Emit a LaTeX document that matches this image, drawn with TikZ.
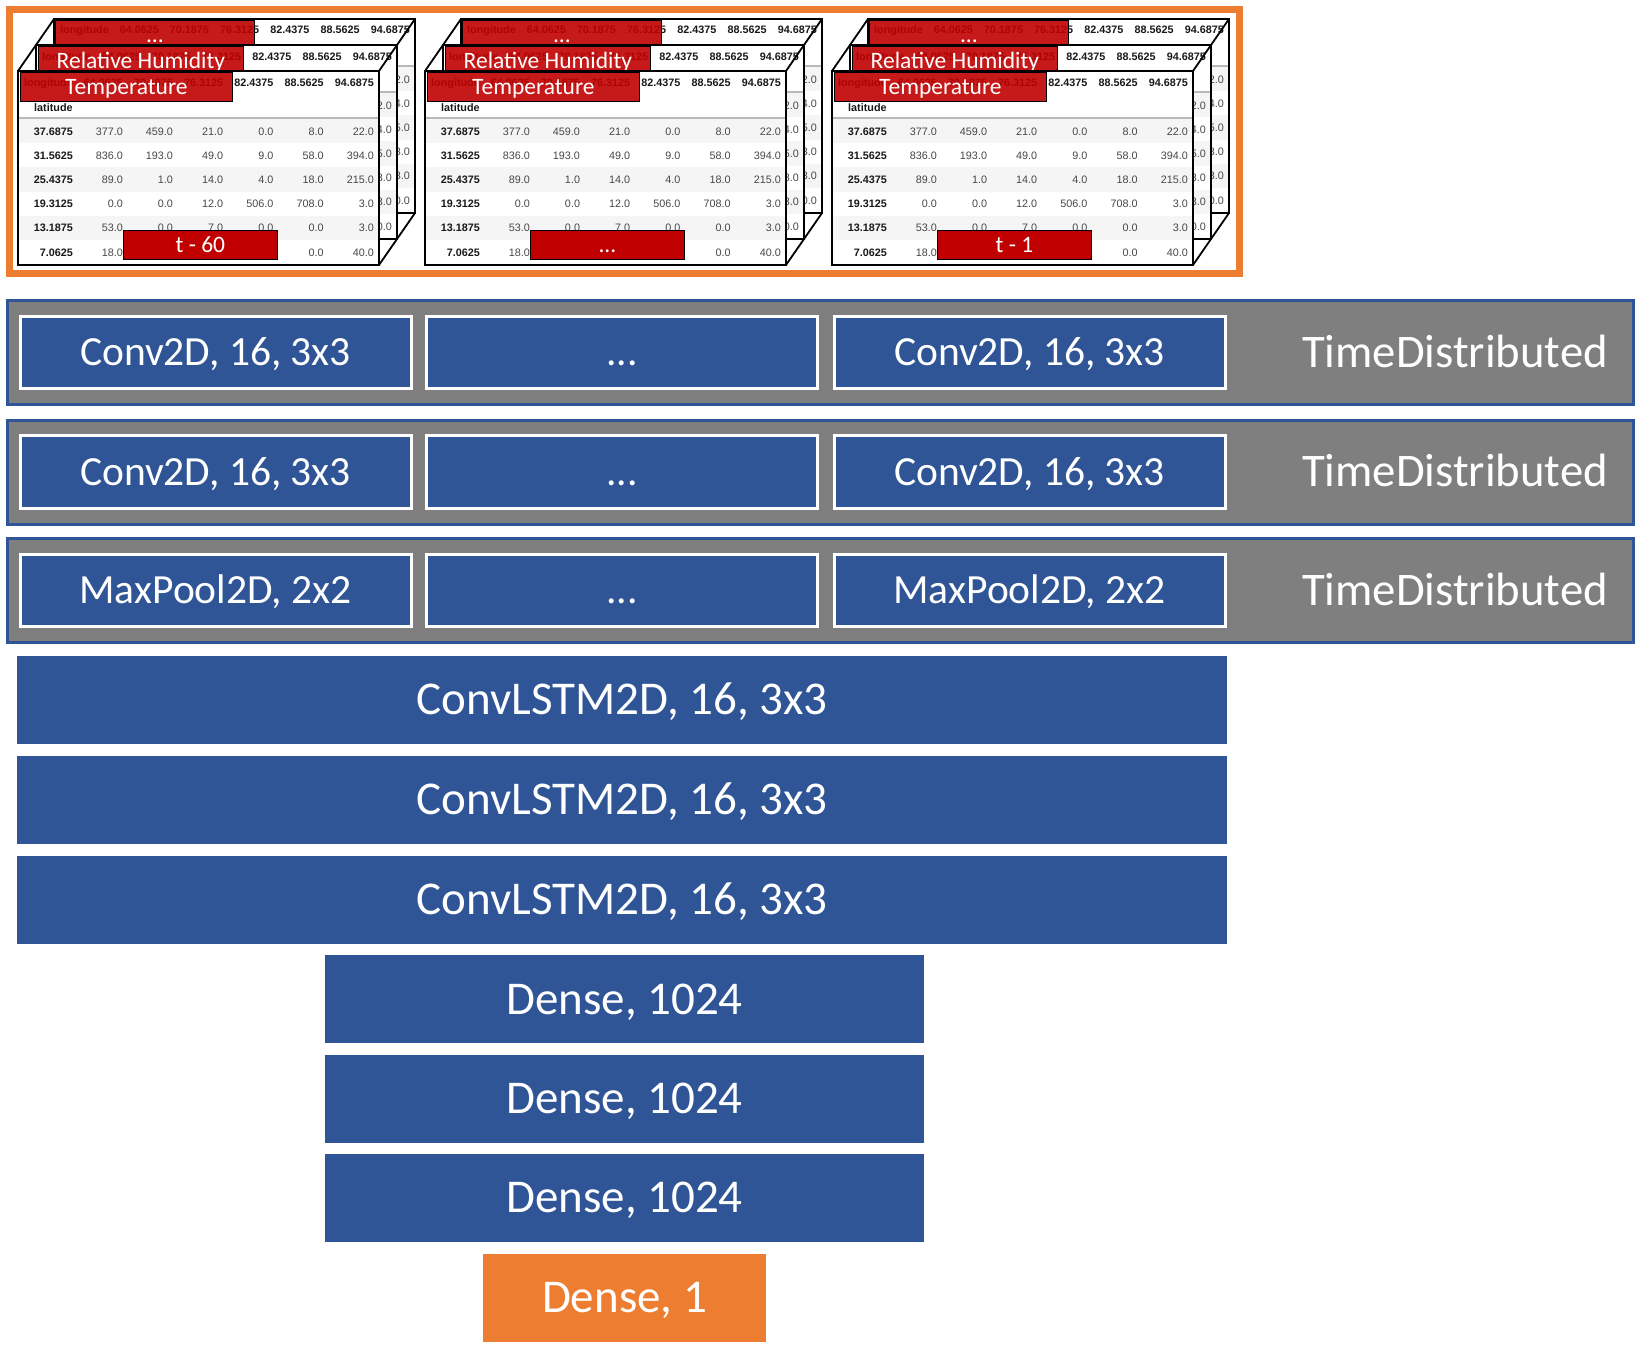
\documentclass[tikz,border=0pt]{standalone}
\usepackage{fontspec}
\setmainfont{Carlito}
\newfontfamily\gridfont{Liberation Sans}
\usetikzlibrary{positioning}

\definecolor{kerasblue}{HTML}{2F5597}
\definecolor{tdgray}{HTML}{7F7F7F}
\definecolor{outorange}{HTML}{ED7D31}
\definecolor{tagred}{HTML}{C00000}
\definecolor{rowshade}{HTML}{F5F5F5}

\newcommand{\skipmark}{...}

\newcommand{\gridlayer}[3]{%
  \begin{scope}
    \fill[white] (#1,#2) rectangle ++(361,194);
    \clip (#1,#2) rectangle ++(361,194);
    \foreach \r in {0,2,4}
      \fill[rowshade] (#1,#2+48+24.2*\r) rectangle ++(361,24.2);
    \draw[gray!55, line width=1.5pt] (#1,#2+47) -- ++(361,0);
    \node[headcell] (#3-lon) at (#1+55,#2+15) {longitude};
    \foreach \v [count=\j] in {64.0625,70.1875,76.3125,82.4375,88.5625,94.6875}
      \node[headcell] (#3-h\j) at (#1+54.8+50.2*\j,#2+15) {\v};
    \node[headcell, anchor=base west] (#3-lat) at (#1+16,#2+40) {latitude};
    \foreach \lat/\a/\b/\c/\d/\e/\f [count=\i from 0] in {%
        37.6875/377.0/459.0/21.0/0.0/8.0/22.0,
        31.5625/836.0/193.0/49.0/9.0/58.0/394.0,
        25.4375/89.0/1.0/14.0/4.0/18.0/215.0,
        19.3125/0.0/0.0/12.0/506.0/708.0/3.0,
        13.1875/53.0/0.0/7.0/0.0/0.0/3.0,
        7.0625/18.0/{}/{}/{}/0.0/40.0}{%
      \node[headcell] (#3-r\i) at (#1+55,#2+64+24.2*\i) {\lat};
      \foreach \v [count=\j] in {\a,\b,\c,\d,\e,\f}
        \node[valcell] (#3-c\i\j) at (#1+54.8+50.2*\j,#2+64+24.2*\i) {\v};
    }
  \end{scope}
  \draw[layeredge] (#1,#2) rectangle ++(361,194);
}

\begin{document}
\begin{tikzpicture}[x=1pt, y=-1pt,
  headcell/.style={anchor=base east, inner sep=0pt, text=black!90,
    font=\gridfont\fontsize{10.8}{13}\selectfont\bfseries},
  valcell/.style={anchor=base east, inner sep=0pt, text=black!72,
    font=\gridfont\fontsize{10.8}{13}\selectfont},
  layeredge/.style={draw=black, line width=1.8pt},
  tagbox/.style={anchor=north west, fill=tagred, fill opacity=0.9, text opacity=1,
    draw=black, line width=0.8pt, text=white, inner sep=0pt, minimum height=28.5,
    font=\fontsize{23.5}{26}\selectfont, text height=14.8pt, text depth=0pt},
  stepbox/.style={tagbox, fill opacity=1, minimum width=154, minimum height=29},
  tdbar/.style={draw=kerasblue, fill=tdgray, line width=3pt, inner sep=0pt,
    minimum width=1626, minimum height=104},
  tdbox/.style={draw=white, fill=kerasblue, line width=3pt, text=white, inner sep=0pt,
    minimum width=391, minimum height=72.5,
    font=\fontsize{41.5}{45}\selectfont, text height=26.1pt, text depth=0pt},
  tdlabel/.style={text=white, inner sep=0pt,
    font=\fontsize{46.7}{50}\selectfont, text height=29.4pt, text depth=0pt},
  layerbox/.style={fill=kerasblue, text=white, inner sep=0pt, minimum height=88,
    font=\fontsize{47}{50}\selectfont, text height=29.6pt, text depth=0pt},
  outbox/.style={layerbox, fill=outorange}]
  \useasboundingbox (0,0) rectangle (1645,1346);

  \draw[outorange, line width=7pt] (9.5,10) rectangle (1239.5,273);

  \foreach \x/\tag/\nm in {18/t - 60/ta, 425/\skipmark/tb, 832/t - 1/tc}{
    \gridlayer{\x+36}{19}{\nm3}
    \node[tagbox, minimum width=199] (\nm-dots) at (\x+37,20) {\skipmark};
    \gridlayer{\x+18}{45}{\nm2}
    \node[tagbox, minimum width=205] (\nm-rh) at (\x+20,46) {Relative Humidity};
    \gridlayer{\x}{71}{\nm1}
    \node[tagbox, minimum width=212] (\nm-temp) at (\x+2,72) {Temperature};
    \draw[layeredge] (\x,71) -- (\x+36,19) (\x+361,71) -- (\x+397,19)
      (\x+361,265) -- (\x+397,213);
    \node[stepbox] (\nm-step) at (\x+105,230) {\tag};
  }

  \foreach \y/\lab/\nm in {352.5/{Conv2D, 16, 3x3}/conva,
      472/{Conv2D, 16, 3x3}/convb, 590.5/{MaxPool2D, 2x2}/pool}{
    \node[tdbar] (\nm-bar) at (820.5,\y) {};
    \node[tdbox] (\nm-first) at (215.5,\y) {\lab};
    \node[tdbox] (\nm-mid) at (622,\y) {\skipmark};
    \node[tdbox] (\nm-last) at (1029.5,\y) {\lab};
    \node[tdlabel] (\nm-td) at (1455,\y) {TimeDistributed};
  }

  \node[layerbox, minimum width=1210] (lstm1) at (622,700) {ConvLSTM2D, 16, 3x3};
  \node[layerbox, minimum width=1210, below=11.5pt of lstm1] (lstm2) {ConvLSTM2D, 16, 3x3};
  \node[layerbox, minimum width=1210, below=11.5pt of lstm2] (lstm3) {ConvLSTM2D, 16, 3x3};
  \node[layerbox, minimum width=599, below=11pt of lstm3, xshift=2.5pt] (dense1) {Dense, 1024};
  \node[layerbox, minimum width=599, below=11pt of dense1] (dense2) {Dense, 1024};
  \node[layerbox, minimum width=599, below=11pt of dense2] (dense3) {Dense, 1024};
  \node[outbox, minimum width=283, below=11.5pt of dense3] (out) {Dense, 1};
\end{tikzpicture}
\end{document}
